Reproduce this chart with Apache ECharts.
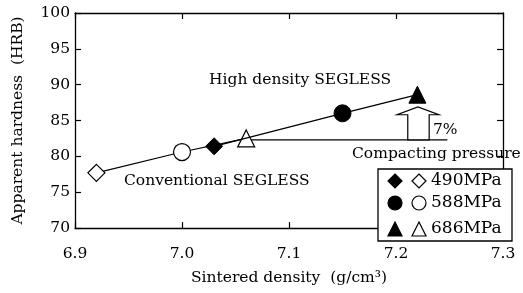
<!DOCTYPE html>
<html>
<head>
<meta charset="utf-8">
<script src="https://cdn.jsdelivr.net/npm/echarts@6/dist/echarts.min.js"></script>
<style>
  html, body { margin: 0; padding: 0; background: #fff; }
  #container { width: 523px; height: 293px; }
</style>
</head>
<body>
<div id="container"></div>
<script>
// compacting pressure and the marker used for it
const pressures = ['490MPa', '588MPa', '686MPa'];
const symbols = ['diamond', 'circle', 'triangle'];

// conventional SEGLESS (open markers)
const convDensity = [6.92, 7.00, 7.06];
const convHardness = [77.7, 80.6, 82.5];

// high density SEGLESS (filled markers)
const highDensity = [7.03, 7.15, 7.22];
const highHardness = [81.4, 86.0, 88.6];

// 7% reference line and arrow
const refLineX = [7.06, 7.248];
const refLineY = 82.3;
const arrowTop = 86.9;

const font = 'DejaVu Serif';
const fs = 15.5;

const myChart = echarts.init(document.getElementById('container'));

const makeData = (xs, ys) => xs.map((x, i) => ({ value: [x, ys[i]], symbol: symbols[i] }));

const option = {
    animation: false,
    textStyle: { fontFamily: font },
    grid: { left: 75, top: 13, right: 20, bottom: 65 },
    xAxis: [
        {
            type: 'value',
            min: 6.9,
            max: 7.3,
            interval: 0.1,
            name: 'Sintered density  (g/cm³)',
            nameLocation: 'middle',
            nameGap: 42,
            nameTextStyle: { fontFamily: font, fontSize: fs, color: '#000' },
            axisLine: { lineStyle: { color: '#000', width: 1.3 } },
            axisTick: { inside: true, length: 6, lineStyle: { color: '#000', width: 1.2 } },
            axisLabel: {
                margin: 18, fontFamily: font, fontSize: fs, color: '#000',
                formatter: v => v.toFixed(1)
            },
            splitLine: { show: false }
        },
        {
            type: 'value',
            position: 'top',
            min: 6.9,
            max: 7.3,
            interval: 0.1,
            axisLine: { lineStyle: { color: '#000', width: 1.3 } },
            axisTick: { inside: true, length: 6, lineStyle: { color: '#000', width: 1.2 } },
            axisLabel: { show: false },
            splitLine: { show: false }
        }
    ],
    yAxis: [
        {
            type: 'value',
            min: 70,
            max: 100,
            interval: 5,
            name: 'Apparent hardness  (HRB)',
            nameLocation: 'middle',
            nameGap: 49,
            nameTextStyle: { fontFamily: font, fontSize: fs, color: '#000' },
            axisLine: { show: true, lineStyle: { color: '#000', width: 1.3 } },
            axisTick: { show: true, inside: true, length: 6, lineStyle: { color: '#000', width: 1.2 } },
            axisLabel: { margin: 5, fontFamily: font, fontSize: fs, color: '#000' },
            splitLine: { show: false }
        },
        {
            type: 'value',
            position: 'right',
            min: 70,
            max: 100,
            interval: 5,
            axisLine: { show: true, lineStyle: { color: '#000', width: 1.3 } },
            axisTick: { show: true, inside: true, length: 6, lineStyle: { color: '#000', width: 1.2 } },
            axisLabel: { show: false },
            splitLine: { show: false }
        }
    ],
    series: [
        {
            name: 'Conventional SEGLESS',
            type: 'line',
            data: makeData(convDensity, convHardness),
            symbolSize: 17,
            lineStyle: { color: '#000', width: 1.2 },
            itemStyle: { color: '#fff', borderColor: '#000', borderWidth: 1.2 },
            z: 3
        },
        {
            name: 'High density SEGLESS',
            type: 'line',
            data: makeData(highDensity, highHardness),
            symbolSize: 17,
            lineStyle: { color: '#000', width: 1.2 },
            itemStyle: { color: '#000', borderColor: '#000', borderWidth: 1 },
            z: 4
        },
        {
            name: 'ref',
            type: 'line',
            data: refLineX.map(x => [x, refLineY]),
            symbol: 'none',
            lineStyle: { color: '#000', width: 1.2 },
            z: 2,
            silent: true
        }
    ]
};
myChart.setOption(option);

// hollow arrow and annotations
const p = (x, y) => myChart.convertToPixel({ xAxisIndex: 0, yAxisIndex: 0 }, [x, y]);
const base = p(7.211, refLineY);
const shaftR = p(7.231, refLineY)[0];
const headL = p(7.201, refLineY)[0];
const headR = p(7.240, refLineY)[0];
const tip = p(7.2205, arrowTop);
const headBase = p(7.22, 85.8)[1];

const legendRows = [181, 203, 229];
const legendItems = [];
const drawSymbol = (sym, cx, cy, fill) => {
    const s = 7;
    const style = { fill: fill, stroke: '#000', lineWidth: 1.2 };
    const el = { z: 12, style: style };
    if (sym === 'circle') return Object.assign(el, { type: 'circle', shape: { cx: cx, cy: cy, r: s } });
    if (sym === 'diamond') return Object.assign(el, { type: 'polygon', shape: { points: [[cx, cy - s], [cx + s, cy], [cx, cy + s], [cx - s, cy]] } });
    return Object.assign(el, { type: 'polygon', shape: { points: [[cx, cy - s], [cx + s, cy + s], [cx - s, cy + s]] } });
};
pressures.forEach((name, i) => {
    const y = legendRows[i];
    legendItems.push(drawSymbol(symbols[i], 395, y, '#000'));
    legendItems.push(drawSymbol(symbols[i], 419, y, '#fff'));
    legendItems.push({
        type: 'text', x: 431, y: y, z: 12,
        style: { text: name, fontFamily: font, fontSize: 17, fill: '#000', verticalAlign: 'middle' }
    });
});

myChart.setOption({
    graphic: [
        {
            type: 'polygon', z: 10,
            shape: {
                points: [
                    [base[0], base[1]], [base[0], headBase], [headL, headBase], [tip[0], tip[1]],
                    [headR, headBase], [shaftR, headBase], [shaftR, base[1]]
                ]
            },
            style: { fill: '#fff', stroke: '#000', lineWidth: 1.2 }
        },
        {
            type: 'text', x: 433, y: 130, z: 10,
            style: { text: '7%', fontFamily: font, fontSize: fs, fill: '#000', verticalAlign: 'middle' }
        },
        {
            type: 'text', x: 209, y: 80, z: 10,
            style: { text: 'High density SEGLESS', fontFamily: font, fontSize: fs, fill: '#000', verticalAlign: 'middle' }
        },
        {
            type: 'text', x: 124, y: 181, z: 10,
            style: { text: 'Conventional SEGLESS', fontFamily: font, fontSize: fs, fill: '#000', verticalAlign: 'middle' }
        },
        {
            type: 'text', x: 352, y: 154, z: 10,
            style: { text: 'Compacting pressure', fontFamily: font, fontSize: fs, fill: '#000', verticalAlign: 'middle' }
        },
        {
            type: 'rect', z: 10,
            shape: { x: 378, y: 169, width: 134, height: 72 },
            style: { fill: '#fff', stroke: '#000', lineWidth: 1.3 }
        }
    ].concat(legendItems)
});

window.addEventListener('resize', () => {
    myChart.resize()
})
</script>
</body>
</html>
